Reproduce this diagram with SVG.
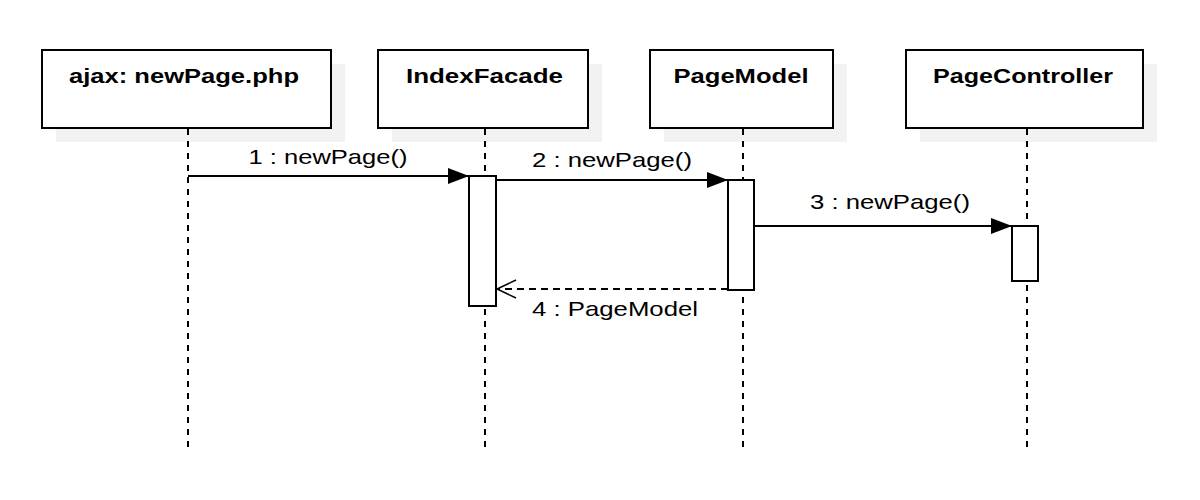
<svg xmlns="http://www.w3.org/2000/svg" width="1200" height="500" viewBox="0 0 1200 500">
<defs>
<style>
.shadow{fill:#f2f2f2;stroke:none}
.box{fill:#ffffff;stroke:#000;stroke-width:2}
.hdr{font-family:"Liberation Sans",Arial,sans-serif;font-weight:bold;font-size:21px;fill:#000}
.lbl{font-family:"Liberation Sans",Arial,sans-serif;font-size:21px;fill:#000}
.life{stroke:#000;stroke-width:2;stroke-dasharray:6 6;fill:none}
.msg{stroke:#000;stroke-width:2;fill:none}
.ret{stroke:#000;stroke-width:2;fill:none;stroke-dasharray:7 5}
.act{fill:#ffffff;stroke:#000;stroke-width:2}
</style>
<marker id="filled" markerWidth="22" markerHeight="18" refX="21" refY="9" orient="auto" markerUnits="userSpaceOnUse">
<path d="M0,1 L21,9 L0,17 Z" fill="#000"/>
</marker>
<marker id="open" markerWidth="22" markerHeight="20" refX="20" refY="10" orient="auto" markerUnits="userSpaceOnUse">
<path d="M1,1 L20,10 L1,19" fill="none" stroke="#000" stroke-width="1.5"/>
</marker>
</defs>
<rect width="1200" height="500" fill="#ffffff"/>

<g id="shadows">
<rect class="shadow" x="56" y="64" width="289" height="78"/>
<rect class="shadow" x="392" y="64" width="210" height="78"/>
<rect class="shadow" x="664" y="64" width="183" height="78"/>
<rect class="shadow" x="920" y="64" width="237" height="78"/>
</g>

<g id="lifelines">
<line class="life" x1="188" y1="129" x2="188" y2="447"/>
<line class="life" x1="485" y1="129" x2="485" y2="447"/>
<line class="life" x1="743" y1="129" x2="743" y2="447"/>
<line class="life" x1="1027" y1="129" x2="1027" y2="447"/>
</g>

<g id="node-ajax">
<rect class="box" x="42" y="50" width="289" height="78"/>
<text class="hdr" x="184" y="83" text-anchor="middle" textLength="230" lengthAdjust="spacingAndGlyphs">ajax: newPage.php</text>
</g>
<g id="node-indexfacade">
<rect class="box" x="378" y="50" width="210" height="78"/>
<text class="hdr" x="484.5" y="83" text-anchor="middle" textLength="157" lengthAdjust="spacingAndGlyphs">IndexFacade</text>
</g>
<g id="node-pagemodel">
<rect class="box" x="650" y="50" width="183" height="78"/>
<text class="hdr" x="741" y="83" text-anchor="middle" textLength="135" lengthAdjust="spacingAndGlyphs">PageModel</text>
</g>
<g id="node-pagecontroller">
<rect class="box" x="906" y="50" width="237" height="78"/>
<text class="hdr" x="1023" y="83" text-anchor="middle" textLength="180" lengthAdjust="spacingAndGlyphs">PageController</text>
</g>

<g id="activations">
<rect class="act" x="469" y="176" width="27" height="130"/>
<rect class="act" x="728" y="180" width="26" height="110"/>
<rect class="act" x="1012" y="226" width="26" height="55"/>
</g>

<g id="connectors">
<line class="msg" x1="188" y1="176" x2="469" y2="176" marker-end="url(#filled)"/>
<text class="lbl" x="328" y="164" text-anchor="middle" textLength="159" lengthAdjust="spacingAndGlyphs">1 : newPage()</text>
<line class="msg" x1="496" y1="180" x2="728" y2="180" marker-end="url(#filled)"/>
<text class="lbl" x="612" y="167" text-anchor="middle" textLength="160" lengthAdjust="spacingAndGlyphs">2 : newPage()</text>
<line class="msg" x1="754" y1="226" x2="1012" y2="226" marker-end="url(#filled)"/>
<text class="lbl" x="890" y="209" text-anchor="middle" textLength="160" lengthAdjust="spacingAndGlyphs">3 : newPage()</text>
<line class="ret" x1="728" y1="289" x2="497" y2="289" marker-end="url(#open)"/>
<text class="lbl" x="615" y="316" text-anchor="middle" textLength="166" lengthAdjust="spacingAndGlyphs">4 : PageModel</text>
</g>
</svg>
